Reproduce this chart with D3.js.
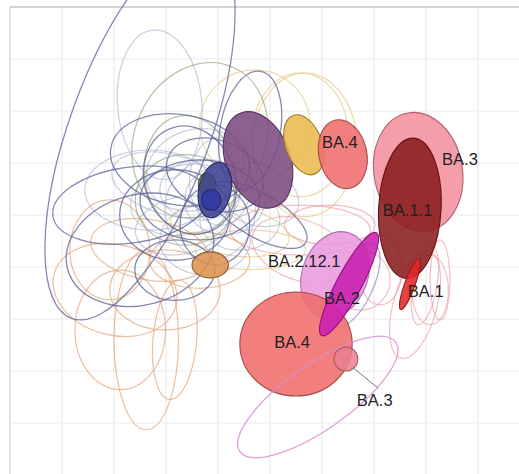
<!DOCTYPE html>
<html>
<head>
<meta charset="utf-8">
<script src="https://cdn.jsdelivr.net/npm/d3@7.9.0/dist/d3.min.js"></script>
<style>
  html, body { margin: 0; padding: 0; background: #fff; }
  svg { display: block; }
  .label { font-family: "Liberation Sans", Arial, sans-serif; font-size: 16.5px; fill: #1f1f1f; }
</style>
</head>
<body>
<svg id="map" width="519" height="474"></svg>
<script>
// antigenic map units, one grid cell = 1 unit
// rings: [cx, cy, rx, ry, angle]
const navyRings = [
  [2.50, 2.37, 1.35, 3.85, 20],
  [2.31, 3.81, 1.50, 0.73, -8],
  [2.50, 4.67, 1.44, 1.06, -15],
  [3.17, 4.00, 1.06, 0.87, 0],
  [4.62, 2.37, 0.58, 1.15, 10],
  [4.77, 4.00, 1.06, 0.42, 30],
  [3.65, 3.71, 1.15, 0.77, 0],
  [3.46, 3.33, 0.87, 1.06, -20],
  [3.94, 3.23, 0.96, 0.67, 20],
  [3.27, 2.94, 1.35, 0.87, 10],
  [3.17, 5.06, 0.77, 0.58, 0],
  [3.94, 4.19, 0.67, 0.77, 0]
];
const greyRings = [
  [3.65, 3.52, 0.77, 0.58, 0],
  [3.37, 3.71, 1.06, 0.67, -10],
  [3.85, 3.90, 0.87, 0.96, 0],
  [3.08, 3.42, 1.15, 0.58, 15],
  [4.13, 3.71, 0.77, 0.67, 0],
  [3.56, 3.13, 0.96, 0.77, -20],
  [2.88, 1.88, 0.81, 1.44, -5],
  [2.69, 3.52, 1.25, 0.77, 0],
  [4.42, 4.10, 0.77, 0.58, 0],
  [3.75, 4.48, 0.87, 0.67, 0],
  [4.71, 3.60, 0.87, 0.58, 20],
  [3.30, 4.20, 0.90, 0.55, -12],
  [4.05, 3.35, 0.60, 0.85, 0]
];
const greenRings = [
  [3.65, 2.56, 1.25, 1.54, 25],
  [3.37, 3.71, 0.96, 0.87, 0],
  [3.46, 3.23, 0.87, 1.15, -10]
];
const yellowRings = [
  [5.58, 2.46, 0.92, 1.19, 0],
  [4.71, 2.27, 1.06, 1.06, 0],
  [5.67, 2.65, 1.00, 1.38, 0],
  [4.23, 4.29, 1.15, 0.48, 10],
  [4.62, 4.67, 1.06, 0.38, 0]
];
const orangeRings = [
  [2.62, 6.40, 0.62, 1.73, 0],
  [2.02, 5.44, 1.21, 0.87, 15],
  [2.12, 6.21, 0.87, 1.15, 0],
  [3.17, 6.40, 0.42, 1.15, 5],
  [2.98, 5.44, 1.06, 0.77, 0],
  [2.69, 4.67, 1.15, 0.58, 10],
  [3.65, 4.87, 0.96, 0.54, 0],
  [1.92, 4.67, 0.77, 0.96, 0]
];
const pinkRings = [
  [7.98, 5.35, 0.23, 0.77, 10],
  [8.08, 5.44, 0.35, 0.67, 0],
  [8.27, 5.25, 0.19, 0.77, 0],
  [7.79, 5.73, 0.42, 1.06, 15],
  [5.58, 4.67, 0.96, 0.58, 20],
  [6.15, 4.19, 0.87, 0.38, 0],
  [6.73, 5.25, 0.58, 0.58, 0],
  [7.12, 5.06, 0.42, 0.67, 0],
  [5.58, 4.29, 1.35, 0.48, 0]
];
const lilacRings = [
  [6.63, 5.35, 0.35, 0.87, 25]
];
const topRings = [
  [5.92, 7.50, 1.83, 0.62, -35]
];

// filled areas: [cx, cy, rx, ry, angle]
const blobNames = ["purple", "yellow", "ba4a", "ba3a", "ba11", "ba1", "ba2121", "ba4b", "ba3b", "ba2",
                   "green", "blue", "blueCore", "orange"];
const blobs = [
  [4.77, 2.94, 0.62, 0.96, -20],
  [5.65, 2.65, 0.35, 0.60, -20],
  [6.40, 2.83, 0.46, 0.67, -12],
  [7.85, 3.17, 0.85, 1.15, -10],
  [7.69, 3.87, 0.60, 1.35, 3],
  [7.69, 5.33, 0.10, 0.52, 20],
  [6.25, 5.15, 0.63, 0.85, 20],
  [5.50, 6.48, 1.08, 1.00, 0],
  [6.46, 6.77, 0.23, 0.23, 0],
  [6.52, 5.33, 0.24, 1.12, 28],
  [3.79, 3.42, 0.17, 0.23, 0],
  [3.94, 3.52, 0.31, 0.54, 12],
  [3.87, 3.71, 0.19, 0.20, 0],
  [3.85, 4.96, 0.35, 0.25, 0]
];

const labelText = ["BA.4", "BA.3", "BA.1.1", "BA.2.12.1", "BA.2", "BA.1", "BA.4", "BA.3"];
const labelX = [6.00, 8.31, 7.17, 4.96, 6.04, 7.65, 5.08, 6.67];
const labelY = [2.71, 3.04, 4.02, 5.00, 5.71, 5.58, 6.56, 7.67];
const leader = [[6.60, 6.94], [7.08, 7.33]];

const gridX = d3.range(0, 10);
const gridY = d3.range(0, 10);

const width = 519, height = 474;
const svg = d3.select("#map");

const x = d3.scaleLinear().domain([0, 10]).range([10, 530]);
const y = d3.scaleLinear().domain([0, 9]).range([7, 475]);
const r = d3.scaleLinear().domain([0, 1]).range([0, 52]);

const fills = {
  purple: ["#7c4a7f", "#54305a"],
  yellow: ["#e9b94f", "#9e7d2c"],
  ba4a: ["#f06d6d", "#a24848"],
  ba3a: ["#f48f9c", "#b0606e"],
  ba11: ["#8a1c1e", "#641012"],
  ba1: ["#e2282a", "#a01416"],
  ba2121: ["#e99ade", "#b06ca6"],
  ba4b: ["#f06c6c", "#a04a4a"],
  ba3b: ["#e98290", "#a85a66"],
  ba2: ["#cb1fb1", "#8e1280"],
  green: ["#6d9b3a", "#45691f"],
  blue: ["#3d4193", "#262a6a"],
  blueCore: ["#3038a2", "#252a78"],
  orange: ["#dc9351", "#8e5c2c"]
};

// grid
const grid = svg.append("g");
grid.selectAll(".vx").data(gridX).join("line")
  .attr("x1", d => x(d)).attr("x2", d => x(d))
  .attr("y1", y(0)).attr("y2", height)
  .attr("stroke", d => d === 0 ? "#dcdcdc" : "#ececec")
  .attr("stroke-width", d => d === 0 ? 1.6 : 1.2);
grid.selectAll(".hy").data(gridY).join("line")
  .attr("y1", d => y(d)).attr("y2", d => y(d))
  .attr("x1", x(0)).attr("x2", width)
  .attr("stroke", d => d === 0 ? "#d4d4d4" : "#ececec")
  .attr("stroke-width", d => d === 0 ? 2 : 1.2);

function rings(data, color, opacity, w) {
  svg.append("g").selectAll("ellipse").data(data).join("ellipse")
    .attr("transform", d => `translate(${x(d[0])},${y(d[1])}) rotate(${d[4]})`)
    .attr("rx", d => r(d[2])).attr("ry", d => r(d[3]))
    .attr("fill", "none")
    .attr("stroke", color)
    .attr("stroke-opacity", opacity)
    .attr("stroke-width", w);
}

rings(orangeRings, "#e2a47a", 0.7, 1.2);
rings(yellowRings, "#e6cf8c", 0.75, 1.2);
rings(greyRings, "#a9afc9", 0.6, 1.2);
rings(greenRings, "#8e9f72", 0.65, 1.2);
rings(navyRings, "#5b6196", 0.75, 1.3);
rings(pinkRings, "#eb929e", 0.6, 1.2);
rings(lilacRings, "#9480c4", 0.7, 1.2);

svg.append("g").selectAll("ellipse").data(blobs).join("ellipse")
  .attr("transform", d => `translate(${x(d[0])},${y(d[1])}) rotate(${d[4]})`)
  .attr("rx", d => r(d[2])).attr("ry", d => r(d[3]))
  .attr("fill", (d, i) => fills[blobNames[i]][0])
  .attr("fill-opacity", 0.88)
  .attr("stroke", (d, i) => fills[blobNames[i]][1])
  .attr("stroke-width", 1.1);

rings(topRings, "#d98fd2", 0.85, 1.3);

svg.append("line")
  .attr("x1", x(leader[0][0])).attr("y1", y(leader[0][1]))
  .attr("x2", x(leader[1][0])).attr("y2", y(leader[1][1]))
  .attr("stroke", "#777").attr("stroke-width", 1);

svg.append("g").selectAll("text").data(labelText).join("text")
  .attr("class", "label")
  .attr("x", (d, i) => x(labelX[i]))
  .attr("y", (d, i) => y(labelY[i]))
  .text(d => d);
</script>
</body>
</html>
